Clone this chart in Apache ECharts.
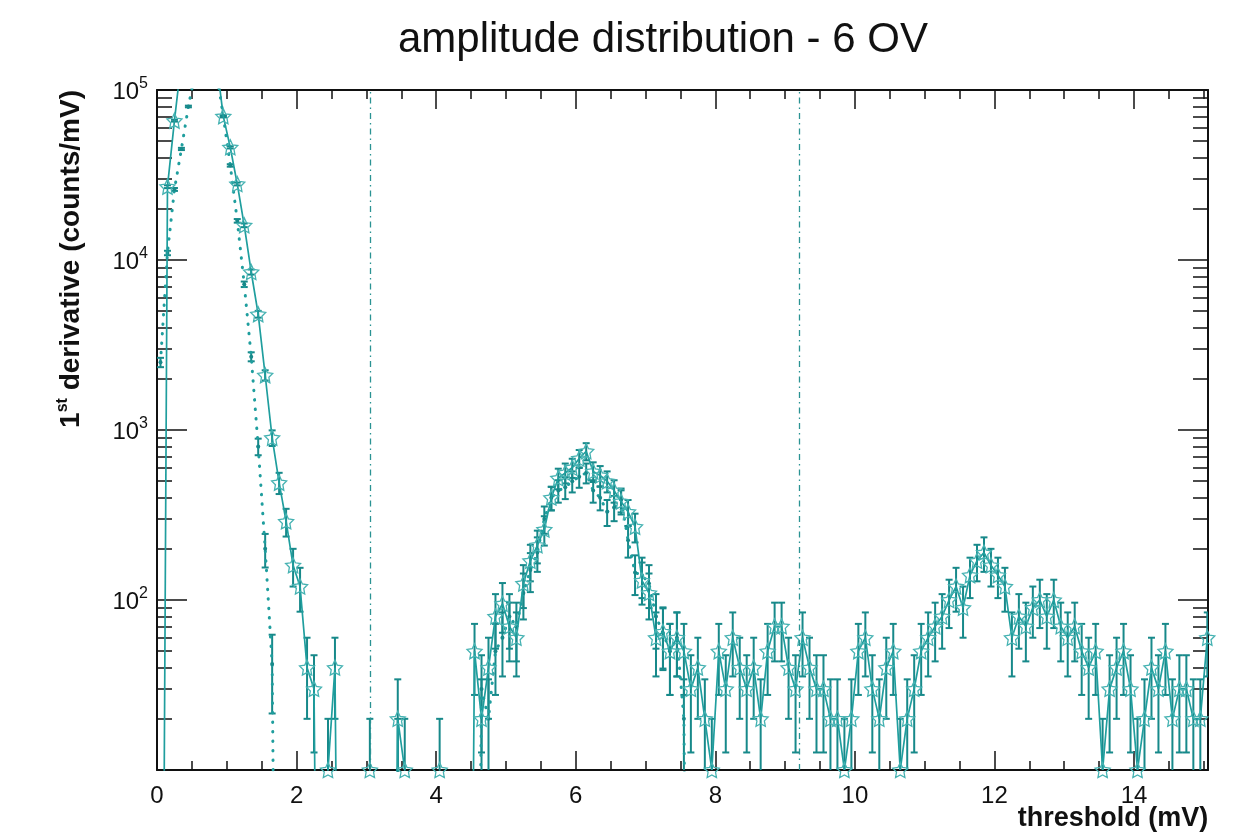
<!DOCTYPE html>
<html>
<head>
<meta charset="utf-8">
<script src="https://cdn.jsdelivr.net/npm/echarts@6/dist/echarts.min.js"></script>
<style>
html,body{margin:0;padding:0;background:#ffffff;}
#chart{width:1245px;height:839px;}
</style>
</head>
<body>
<div id="chart"></div>
<script>
// ---------------- data ----------------
// histogram bins: centre of first bin and bin width (mV)
const binStart = 0.05;
const binWidth = 0.1;

// series with open star markers, solid line (counts/mV)
const openVals = [
  0, 27000, 66000, 150000, 250000, 350000, 380000, 300000, 150000, 70000,
  46000, 28000, 16000, 8500, 4800, 2100, 900, 490, 290, 160,
  120, 40, 30, 0, 10, 40, 0, 0, 0, 0,
  10, 0, 0, 0, 20, 10, 0, 0, 0, 0,
  10, 0, 0, 0, 0, 50, 20, 40, 80, 95,
  70, 60, 125, 170, 210, 260, 400, 520, 560, 600,
  680, 750, 570, 540, 500, 440, 380, 330, 270, 130,
  110, 60, 65, 50, 60, 50, 30, 40, 20, 10,
  50, 30, 60, 40, 30, 40, 20, 50, 70, 70,
  40, 30, 60, 40, 30, 30, 20, 20, 10, 20,
  50, 60, 30, 20, 40, 50, 10, 20, 30, 50,
  60, 70, 80, 100, 120, 90, 140, 170, 190, 160,
  140, 120, 60, 80, 70, 90, 100, 80, 100, 70,
  60, 70, 50, 40, 50, 10, 30, 40, 50, 30,
  10, 20, 40, 30, 50, 20, 30, 30, 20, 20,
  60
];

// series with small filled markers, dotted line (counts/mV)
const dotVals = [
  2500, 11000, 26000, 45000, 80000, 130000, 180000, 200000, 130000, 70000,
  36000, 17000, 7200, 2700, 800, 200, 42, 0, 0, 0,
  0, 0, 0, 0, 0, 0, 0, 0, 0, 0,
  0, 0, 0, 0, 10, 0, 0, 0, 0, 0,
  0, 0, 0, 0, 0, 0, 30, 20, 50, 60,
  80, 70, 110, 150, 190, 300, 400, 440, 460, 500,
  530, 560, 440, 400, 330, 350, 390, 225, 145, 140,
  125, 80, 64, 50, 60, 20, 0, 0, 0, 0,
  0, 0, 0, 0, 0, 0, 0, 0, 0, 0,
  0, 0, 0, 0, 0, 0, 0, 0, 0, 0,
  0, 0, 0, 0, 0, 0, 0, 0, 0, 0,
  0, 0, 0, 0, 0, 0, 0, 0, 0, 0,
  0, 0, 0, 0, 0, 0, 0, 0, 0, 0,
  0, 0, 0, 0, 0, 0, 0, 0, 0, 0,
  0, 0, 0, 0, 0, 0, 0, 0, 0, 0,
  0
];

// vertical threshold markers (mV)
const thresholdLines = [3.05, 9.2];

// tick labels
const xTickLabels = [0, 2, 4, 6, 8, 10, 12, 14];
const yTickLabels = [100, 1000, 10000, 100000];

// ---------------- helpers ----------------
const X_MIN = 0, X_MAX = 15.06, Y_MIN = 10, Y_MAX = 100000;
const ZERO_FLOOR = 1e-3; // empty bins drawn below the log axis (clipped)

function binX(i) { return Math.round((binStart + i * binWidth) * 100) / 100; }
function linePoints(vals) { return vals.map((v, i) => [binX(i), v > 0 ? v : ZERO_FLOOR]); }
function errPoints(vals) {
  const out = [];
  vals.forEach((v, i) => {
    if (v > 0) {
      const e = Math.sqrt(v * binWidth) / binWidth; // Poisson error of the bin
      out.push([binX(i), v, v - e, v + e]);
    }
  });
  return out;
}
const xMinor = [];
for (let t = 0.5; t < X_MAX; t += 0.5) { if (Math.abs(t / 2 - Math.round(t / 2)) > 1e-6) xMinor.push(t); }
const yMinor = [];
[10, 100, 1000, 10000].forEach(d => { for (let k = 2; k <= 9; k++) yMinor.push(k * d); });

const TEAL = '#1f9e9e';
const TEAL_DARK = '#17898a';
const TEAL_LIGHT = '#45b2b2';
const INK = '#111111';
const FONT = 'Liberation Sans, Arial, Helvetica, sans-serif';

function renderErr(params, api) {
  const x = api.value(0), v = api.value(1), lo = api.value(2), hi = api.value(3);
  if (v > Y_MAX) return null;
  const hiC = Math.min(hi, Y_MAX), loC = Math.max(lo, Y_MIN);
  const p1 = api.coord([x, hiC]);
  const p2 = api.coord([x, loC]);
  const cw = 3.5;
  const style = { stroke: TEAL_DARK, lineWidth: 2 };
  const children = [{ type: 'line', shape: { x1: p1[0], y1: p1[1], x2: p2[0], y2: p2[1] }, style: style }];
  if (hi < Y_MAX) children.push({ type: 'line', shape: { x1: p1[0] - cw, y1: p1[1], x2: p1[0] + cw, y2: p1[1] }, style: style });
  if (lo > Y_MIN) children.push({ type: 'line', shape: { x1: p2[0] - cw, y1: p2[1], x2: p2[0] + cw, y2: p2[1] }, style: style });
  return { type: 'group', children: children };
}

const STAR = 'path://M0,-10 L2.9,-4 L9.5,-3.1 L4.7,1.5 L5.9,8.1 L0,5 L-5.9,8.1 L-4.7,1.5 L-9.5,-3.1 L-2.9,-4 Z';

const axisLineStyle = { color: INK, width: 2 };
const tickStyle = { color: INK, width: 1.5 };

const xBase = { type: 'value', min: X_MIN, max: X_MAX, splitLine: { show: false }, gridIndex: 0 };
const yBase = { type: 'log', logBase: 10, min: Y_MIN, max: Y_MAX, splitLine: { show: false }, gridIndex: 0 };

const option = {
  animation: false,
  backgroundColor: '#ffffff',
  textStyle: { fontFamily: FONT },
  title: {
    text: 'amplitude distribution - 6 OV',
    left: 393, top: 14,
    textStyle: { fontFamily: FONT, fontSize: 42, fontWeight: 'normal', color: INK }
  },
  grid: { left: 157, right: 37, top: 90, bottom: 69, containLabel: false, outerBoundsMode: 'none' },
  xAxis: [
    Object.assign({}, xBase, {
      position: 'bottom',
      axisLine: { show: true, onZero: false, lineStyle: axisLineStyle },
      axisTick: { show: true, inside: true, length: 19, lineStyle: tickStyle, customValues: xTickLabels },
      axisLabel: { show: true, customValues: xTickLabels, fontSize: 24, color: INK, margin: 14, fontFamily: FONT },
      name: 'threshold (mV)', nameLocation: 'middle', nameGap: 35, nameMoveOverlap: false,
      nameTextStyle: { fontFamily: FONT, fontSize: 27, fontWeight: 'bold', color: INK, align: 'center', verticalAlign: 'top', padding: [0, 0, 0, 861] }
    }),
    Object.assign({}, xBase, {
      position: 'top',
      axisLine: { show: true, onZero: false, lineStyle: axisLineStyle },
      axisTick: { show: true, inside: true, length: 19, lineStyle: tickStyle, customValues: xTickLabels },
      axisLabel: { show: false }
    }),
    Object.assign({}, xBase, {
      position: 'bottom',
      axisLine: { show: false, onZero: false },
      axisTick: { show: true, inside: true, length: 9, lineStyle: tickStyle, customValues: xMinor },
      axisLabel: { show: false }
    }),
    Object.assign({}, xBase, {
      position: 'top',
      axisLine: { show: false, onZero: false },
      axisTick: { show: true, inside: true, length: 9, lineStyle: tickStyle, customValues: xMinor },
      axisLabel: { show: false }
    })
  ],
  yAxis: [
    Object.assign({}, yBase, {
      position: 'left',
      axisLine: { show: true, onZero: false, lineStyle: axisLineStyle },
      axisTick: { show: true, inside: true, length: 30, lineStyle: tickStyle, customValues: [10].concat(yTickLabels) },
      axisLabel: {
        show: true, customValues: yTickLabels, margin: 9,
        formatter: function (v) { return '{b|10}{s|' + Math.round(Math.log10(v)) + '}'; },
        rich: {
          b: { fontFamily: FONT, fontSize: 24, color: INK, lineHeight: 28, verticalAlign: 'bottom' },
          s: { fontFamily: FONT, fontSize: 16, color: INK, lineHeight: 16, verticalAlign: 'top' }
        }
      },
      name: '{a|1}{sup|st}{a| derivative (counts/mV)}',
      nameLocation: 'end', nameRotate: 90, nameGap: 0,
      nameTextStyle: {
        align: 'right', verticalAlign: 'bottom', padding: [0, 0, 72, 0],
        rich: {
          a: { fontFamily: FONT, fontSize: 28, fontWeight: 'bold', color: INK, lineHeight: 30, verticalAlign: 'bottom' },
          sup: { fontFamily: FONT, fontSize: 16, fontWeight: 'bold', color: INK, lineHeight: 16, verticalAlign: 'top' }
        }
      }
    }),
    Object.assign({}, yBase, {
      position: 'right',
      axisLine: { show: true, onZero: false, lineStyle: axisLineStyle },
      axisTick: { show: true, inside: true, length: 30, lineStyle: tickStyle, customValues: [10].concat(yTickLabels) },
      axisLabel: { show: false }
    }),
    Object.assign({}, yBase, {
      position: 'left',
      axisLine: { show: false, onZero: false },
      axisTick: { show: true, inside: true, length: 15, lineStyle: tickStyle, customValues: yMinor },
      axisLabel: { show: false }
    }),
    Object.assign({}, yBase, {
      position: 'right',
      axisLine: { show: false, onZero: false },
      axisTick: { show: true, inside: true, length: 15, lineStyle: tickStyle, customValues: yMinor },
      axisLabel: { show: false }
    })
  ],
  series: [
    {
      name: 'open-errors', type: 'custom', xAxisIndex: 0, yAxisIndex: 0, clip: true,
      renderItem: renderErr, data: errPoints(openVals), encode: { x: 0, y: 1 }, z: 2, silent: true
    },
    {
      name: 'dot-errors', type: 'custom', xAxisIndex: 0, yAxisIndex: 0, clip: true,
      renderItem: renderErr, data: errPoints(dotVals), encode: { x: 0, y: 1 }, z: 2, silent: true
    },
    {
      name: 'dotted', type: 'line', xAxisIndex: 0, yAxisIndex: 0, clip: true,
      data: linePoints(dotVals), showAllSymbol: true,
      symbol: 'circle', symbolSize: 4,
      itemStyle: { color: TEAL_DARK },
      lineStyle: { color: TEAL, width: 3, type: [0.5, 9], cap: 'round' },
      z: 3, silent: true
    },
    {
      name: 'open', type: 'line', xAxisIndex: 0, yAxisIndex: 0, clip: true,
      data: linePoints(openVals), showAllSymbol: true,
      symbol: STAR, symbolSize: 15,
      itemStyle: { color: 'rgba(255,255,255,0)', borderColor: TEAL_LIGHT, borderWidth: 1.3 },
      lineStyle: { color: TEAL, width: 1.7 },
      z: 4, silent: true,
      markLine: {
        silent: true, symbol: ['none', 'none'], label: { show: false },
        lineStyle: { color: '#2a9393', width: 1.3, type: [6, 4, 1.5, 4] },
        data: thresholdLines.map(v => ({ xAxis: v }))
      }
    }
  ]
};

const chart = echarts.init(document.getElementById('chart'), null, { renderer: 'canvas' });
chart.setOption(option);
</script>
</body>
</html>
